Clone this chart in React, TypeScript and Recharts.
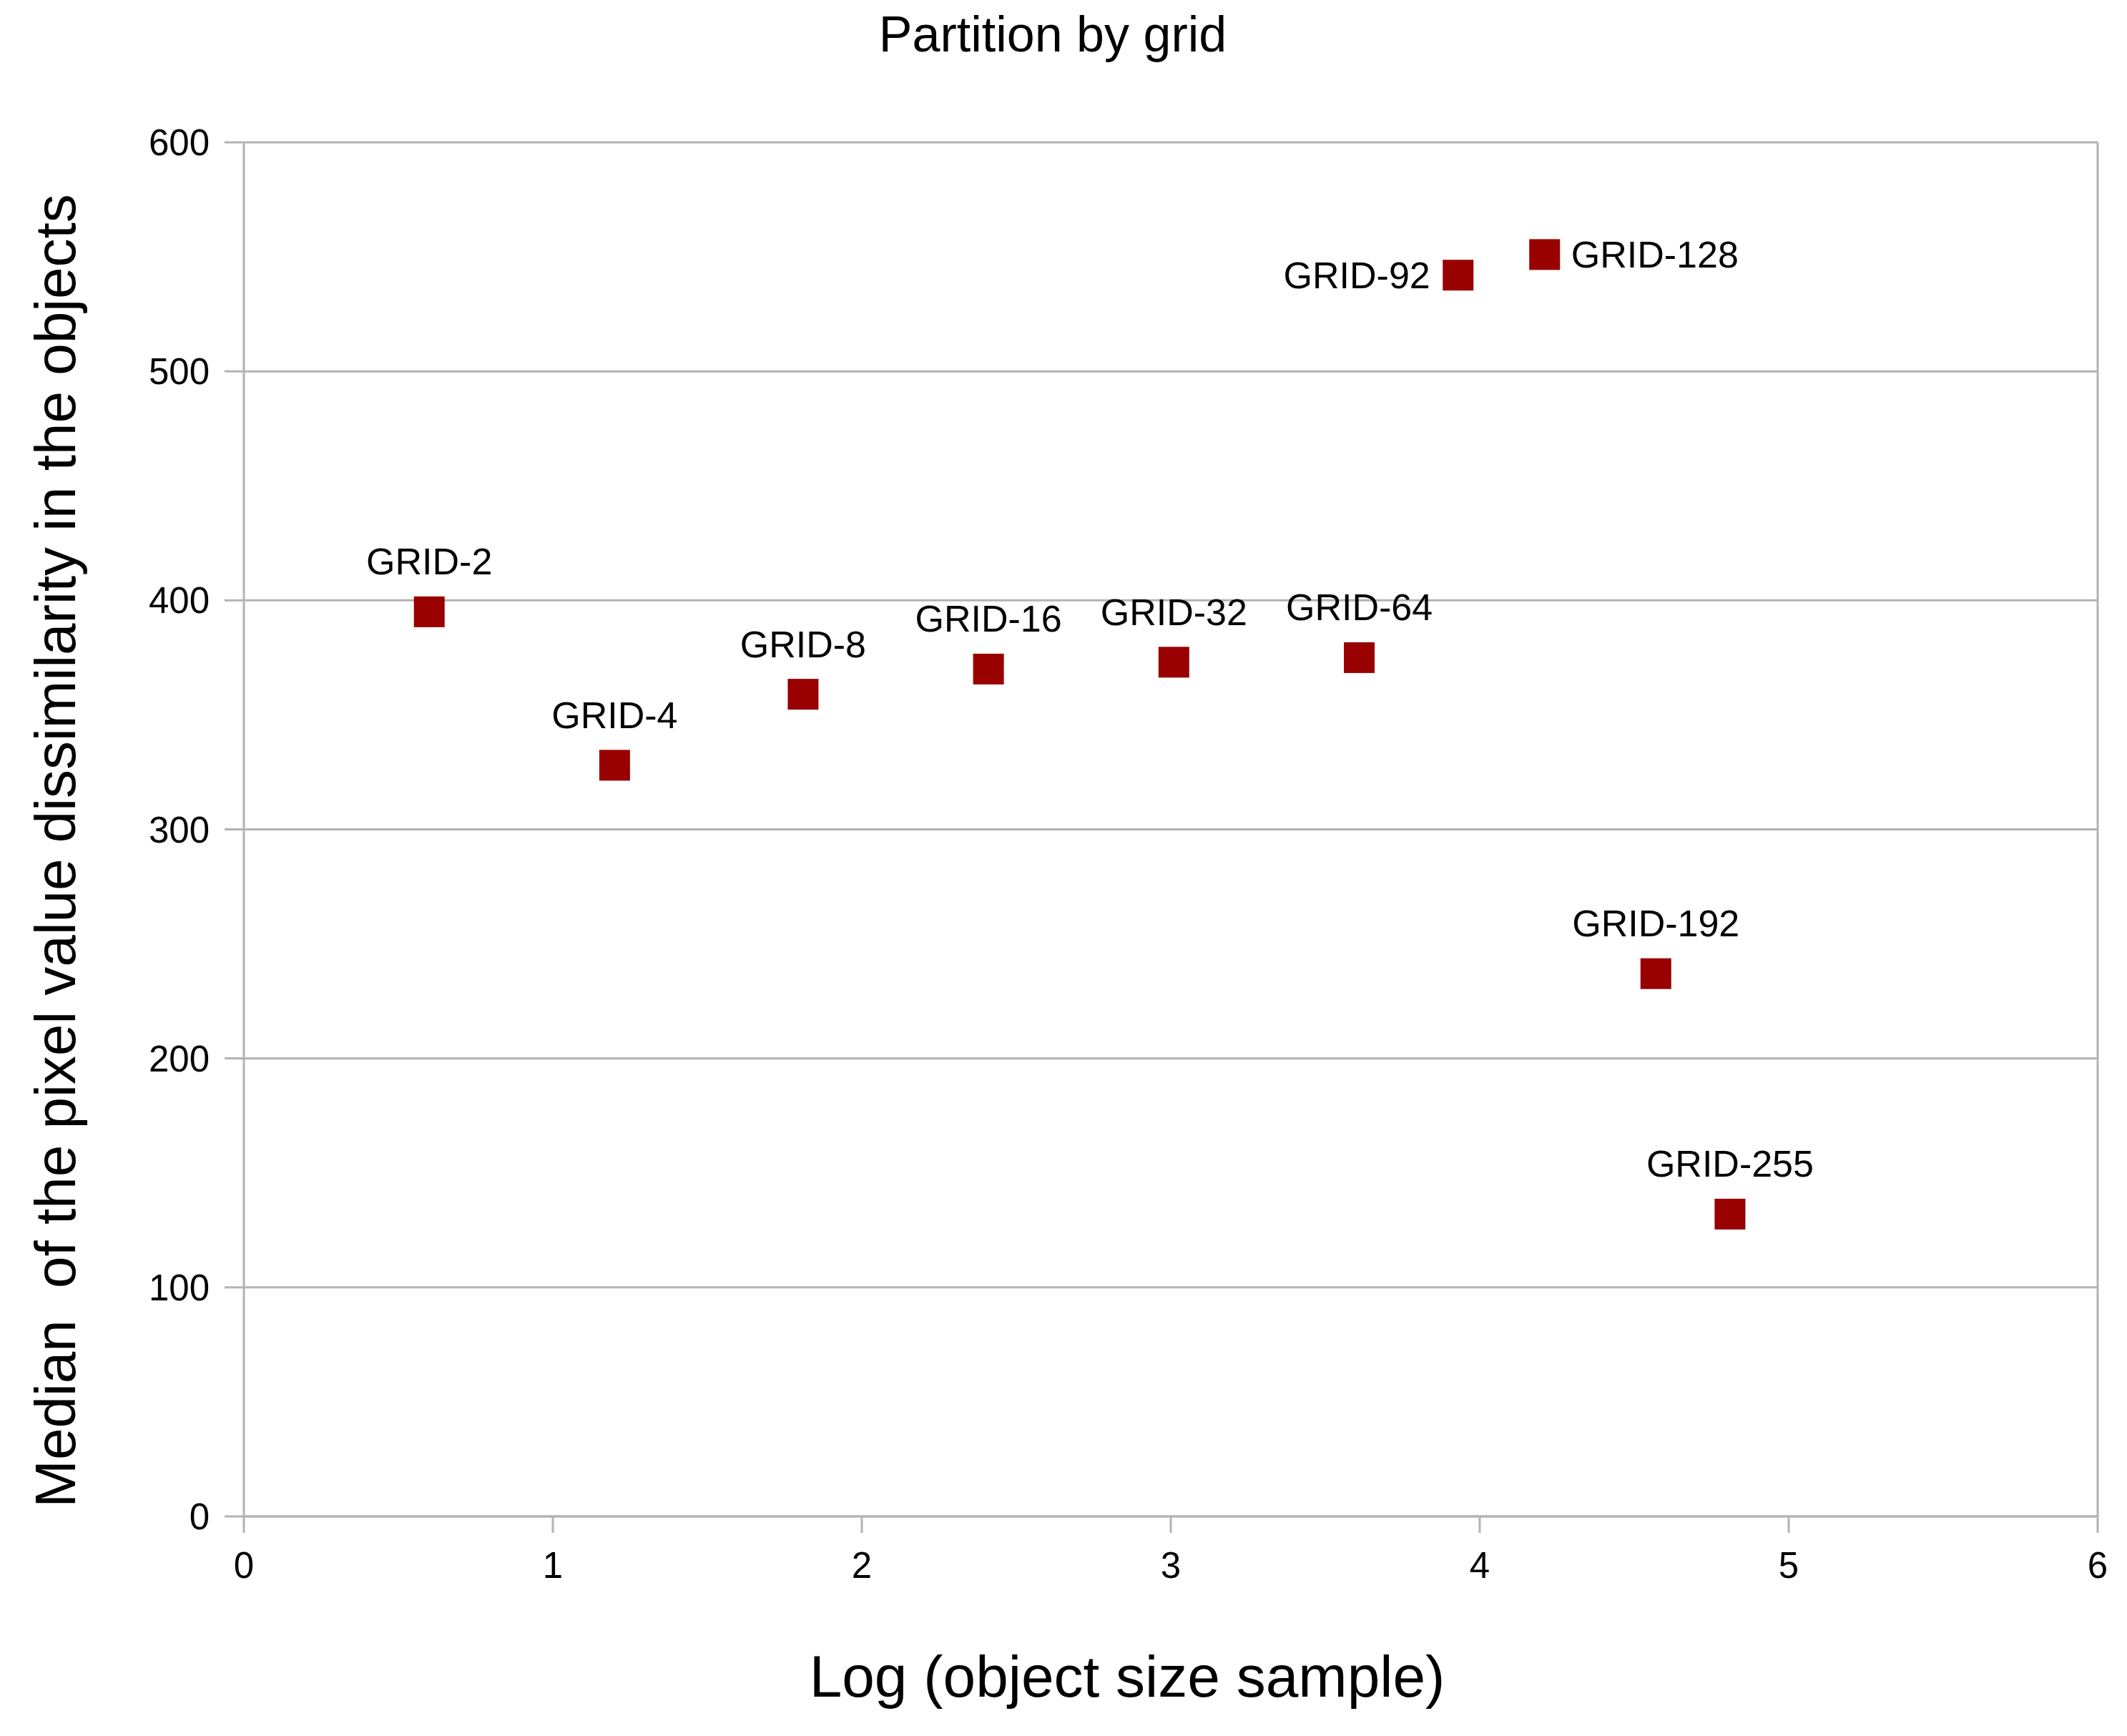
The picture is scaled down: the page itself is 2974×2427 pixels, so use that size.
import { CartesianGrid, Label, ReferenceLine, Scatter, ScatterChart, XAxis, YAxis } from 'recharts';

document.body.style.margin = '0';

const GRID_NAMES = ['GRID-2', 'GRID-4', 'GRID-8', 'GRID-16', 'GRID-32', 'GRID-64', 'GRID-92', 'GRID-128', 'GRID-192', 'GRID-255'];
const LOG_SIZE = [0.6, 1.2, 1.81, 2.41, 3.01, 3.61, 3.93, 4.21, 4.57, 4.81];
const MEDIAN_DISSIMILARITY = [395, 328, 359, 370, 373, 375, 542, 551, 237, 132];

const X_TICKS = [0, 1, 2, 3, 4, 5, 6];
const Y_TICKS = [0, 100, 200, 300, 400, 500, 600];

// where the point label sits; default is above the marker
const LABEL_SIDE: Record<string, 'left' | 'right'> = {
  'GRID-92': 'left',
  'GRID-128': 'right',
};

const FONT = '"Liberation Sans", Arial, sans-serif';
const LINE = '#b3b3b3';
const MARKER = '#990000';

const data = GRID_NAMES.map((name, i) => ({
  name,
  x: LOG_SIZE[i],
  y: MEDIAN_DISSIMILARITY[i],
}));

function SquareMarker(props: any) {
  const { cx, cy, payload } = props;
  const size = 43;
  const side = LABEL_SIDE[payload.name];
  let label;
  if (side === 'left') {
    label = (
      <text x={cx - 39} y={cy + 18} textAnchor="end" fontSize={52} fontFamily={FONT} fill="#000">
        {payload.name}
      </text>
    );
  } else if (side === 'right') {
    label = (
      <text x={cx + 37} y={cy + 18} textAnchor="start" fontSize={52} fontFamily={FONT} fill="#000">
        {payload.name}
      </text>
    );
  } else {
    label = (
      <text x={cx} y={cy - 52} textAnchor="middle" fontSize={52} fontFamily={FONT} fill="#000">
        {payload.name}
      </text>
    );
  }
  return (
    <g>
      <rect x={cx - size / 2} y={cy - size / 2} width={size} height={size} fill={MARKER} />
      {label}
    </g>
  );
}

export default function App() {
  return (
    <div style={{ position: 'relative', width: 2974, height: 2427, background: '#fff' }}>
      <div
        style={{
          position: 'absolute',
          top: 8,
          left: 0,
          width: 2944,
          textAlign: 'center',
          fontFamily: FONT,
          fontSize: 70,
          lineHeight: '80px',
          color: '#000',
        }}
      >
        Partition by grid
      </div>
      <ScatterChart width={2974} height={2427} margin={{ top: 199, right: 41, bottom: 0, left: 0 }}>
        <CartesianGrid horizontal vertical={false} stroke={LINE} strokeWidth={3} />
        <XAxis
          type="number"
          dataKey="x"
          domain={[0, 6]}
          ticks={X_TICKS}
          height={307}
          tickSize={23}
          tickMargin={27}
          stroke={LINE}
          strokeWidth={3}
          tick={{ fill: '#000', fontSize: 51, fontFamily: FONT }}
        >
          <Label
            content={({ viewBox }: any) => (
              <text
                x={viewBox.x + viewBox.width / 2 - 61}
                y={2372}
                textAnchor="middle"
                fontSize={82}
                fontFamily={FONT}
                fill="#000"
              >
                Log (object size sample)
              </text>
            )}
          />
        </XAxis>
        <YAxis
          type="number"
          dataKey="y"
          domain={[0, 600]}
          ticks={Y_TICKS}
          width={341}
          tickSize={27}
          tickMargin={21}
          stroke={LINE}
          strokeWidth={3}
          tick={{ fill: '#000', fontSize: 51, fontFamily: FONT }}
        >
          <Label
            content={({ viewBox }: any) => {
              const cy = viewBox.y + viewBox.height / 2 + 30;
              return (
                <text
                  x={105}
                  y={cy}
                  transform={`rotate(-90 105 ${cy})`}
                  textAnchor="middle"
                  fontSize={80}
                  fontFamily={FONT}
                  fill="#000"
                  style={{ whiteSpace: 'pre' }}
                >
                  {'Median  of the pixel value dissimilarity in the objects'}
                </text>
              );
            }}
          />
        </YAxis>
        <ReferenceLine x={6} stroke={LINE} strokeWidth={3} />
        <Scatter data={data} shape={SquareMarker} isAnimationActive={false} />
      </ScatterChart>
    </div>
  );
}
